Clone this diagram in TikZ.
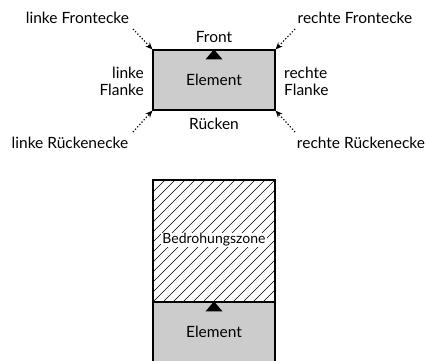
\documentclass[tikz,border=0pt]{standalone}
\usepackage{fontspec}
\setmainfont{Lato}
\usetikzlibrary{arrows.meta}
\begin{document}
\begin{tikzpicture}[x=1pt,y=-1pt,
  font=\fontsize{15.5}{17}\selectfont,
  elem/.style={draw, line width=1.2pt, fill=black!20, minimum width=122pt, minimum height=60pt, inner sep=0pt},
  zone/.style={draw, line width=1.2pt, minimum width=122pt, minimum height=122pt, inner sep=0pt},
  lbl/.style={inner sep=2pt},
  hatch/.style={line width=0.5pt},
  arr/.style={dotted, line width=1.2pt, -{Stealth[length=7pt,width=6pt]}},
  tri/.style={fill=black}]
\useasboundingbox (0,0) rectangle (426,361);
% top element
\node[elem] (e) at (214,80) {Element};
\fill[tri] (e.north) -- ++(-8.5,10) -- ++(17,0) -- cycle;
\node[lbl] (front) at (214,37) {Front};
\node[lbl] (back) at (214,124) {Rücken};
\node[lbl, align=right, anchor=east] (lfl) at (146,81) {linke\\Flanke};
\node[lbl, align=left, anchor=west] (rfl) at (282,81) {rechte\\Flanke};
\node[lbl] (lf) at (77.5,18) {linke Frontecke};
\node[lbl] (rf) at (355,18) {rechte Frontecke};
\node[lbl] (lb) at (70,143) {linke Rückenecke};
\node[lbl] (rb) at (361,143) {rechte Rückenecke};
\coordinate (lfa) at (133,29);
\coordinate (rfa) at (295,29);
\coordinate (lba) at (133,132);
\coordinate (rba) at (295,132);
\draw[arr] (lfa) -- (e.north west);
\draw[arr] (rfa) -- (e.north east);
\draw[arr] (lba) -- (e.south west);
\draw[arr] (rba) -- (e.south east);
% bottom
\node[zone] (z) at (214,241) {};
\begin{scope}
\clip (z.north west) rectangle (z.south east);
\foreach \i in {-130,-120,...,130} {
  \draw[hatch] (153+\i,302) -- ++(122,-122);
}
\end{scope}
\node[zone] (z2) at (214,241) {};
\node[fill=white, inner sep=1pt, font=\fontsize{14}{16}\selectfont] (zt) at (214,240) {Bedrohungszone};
\node[elem] (e2) at (214,332) {Element};
\fill[tri] (e2.north) -- ++(-8.5,10) -- ++(17,0) -- cycle;
\end{tikzpicture}
\end{document}
